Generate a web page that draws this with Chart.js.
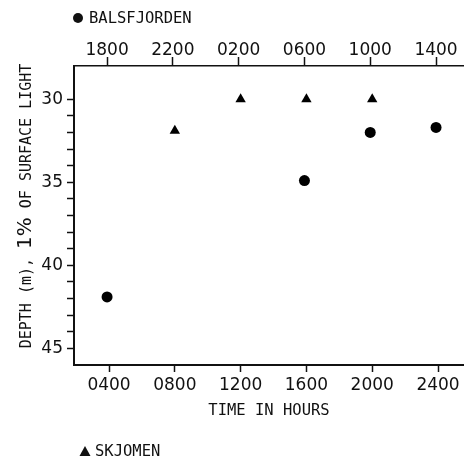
<!DOCTYPE html>
<html><head><meta charset="utf-8">
<script src="https://cdn.jsdelivr.net/npm/chart.js@4/dist/chart.umd.min.js"></script>
<style>html,body{margin:0;padding:0;background:#fff}#wrap{width:464px;height:461px;position:relative}</style>
</head><body><div id="wrap"><canvas id="c" width="464" height="461"></canvas></div>
<script>
// ---- data ----
const seriesNames = ['BALSFJORDEN', 'SKJOMEN'];
// Balsfjorden: times read on the top axis (hours, continuing past midnight)
const balsfjordenHours = [18, 30, 34, 38];
const balsfjordenDepth = [41.9, 34.9, 32.0, 31.7];
// Skjomen: times read on the bottom axis
const skjomenHours = [8, 12, 16, 20];
const skjomenDepth = [31.9, 30.0, 30.0, 30.0];
// axis ticks
const bottomTickHours = [4, 8, 12, 16, 20, 24];
const bottomTickLabels = ['0400', '0800', '1200', '1600', '2000', '2400'];
const topTickHours = [18, 22, 26, 30, 34, 38];
const topTickLabels = ['1800', '2200', '0200', '0600', '1000', '1400'];
const depthTicks = [30, 31, 32, 33, 34, 35, 36, 37, 38, 39, 40, 41, 42, 43, 44, 45];
const depthLabelValues = [30, 35, 40, 45];
const xTitle = 'TIME IN HOURS';
const yTitleParts = ['DEPTH (m), ', '1%', ' OF SURFACE LIGHT'];

const INK = '#111';
const MONO = '"DejaVu Sans Mono", monospace';
const SANS = '"DejaVu Sans", sans-serif';

const annot = {
  id: 'annot',
  afterDraw(chart) {
    const ctx = chart.ctx;
    ctx.save();
    ctx.fillStyle = INK;
    // legend: circle (top)
    ctx.beginPath(); ctx.arc(78, 18, 5, 0, Math.PI * 2); ctx.fill();
    ctx.font = '15.5px ' + MONO;
    ctx.textBaseline = 'middle'; ctx.textAlign = 'left';
    ctx.fillText(seriesNames[0], 89, 19);
    // legend: triangle (bottom)
    ctx.beginPath();
    ctx.moveTo(85, 446); ctx.lineTo(90.5, 456); ctx.lineTo(79.5, 456); ctx.closePath(); ctx.fill();
    ctx.fillText(seriesNames[1], 95, 452);
    // y title, rotated, mixed sizes
    const fonts = ['15px ' + MONO, '20px ' + SANS, '15px ' + MONO];
    let widths = yTitleParts.map((t, i) => { ctx.font = fonts[i]; return ctx.measureText(t).width; });
    const total = widths.reduce((a, b) => a + b, 0);
    ctx.translate(25, 206);
    ctx.rotate(-Math.PI / 2);
    ctx.textBaseline = 'alphabetic';
    let x = -total / 2;
    yTitleParts.forEach((t, i) => { ctx.font = fonts[i]; ctx.fillText(t, x, 6); x += widths[i]; });
    ctx.restore();
  }
};

const noSidePad = s => { s.paddingLeft = 0; s.paddingRight = 0; };

new Chart(document.getElementById('c'), {
  type: 'scatter',
  data: {
    datasets: [
      {
        label: seriesNames[0],
        data: balsfjordenHours.map((h, i) => ({ x: h, y: balsfjordenDepth[i] })),
        xAxisID: 'xTop', yAxisID: 'y',
        pointStyle: 'circle', pointRadius: 5.5, pointHoverRadius: 5.5,
        backgroundColor: '#000', borderColor: '#000', borderWidth: 0
      },
      {
        label: seriesNames[1],
        data: skjomenHours.map((h, i) => ({ x: h, y: skjomenDepth[i] })),
        xAxisID: 'x', yAxisID: 'y',
        pointStyle: 'triangle', pointRadius: 6, pointHoverRadius: 6,
        backgroundColor: '#000', borderColor: '#000', borderWidth: 0
      }
    ]
  },
  options: {
    responsive: false, animation: false,
    layout: { padding: 0, autoPadding: false },
    plugins: { legend: { display: false }, tooltip: { enabled: false } },
    scales: {
      x: {
        type: 'linear', position: 'bottom', min: 1.87, max: 25.58,
        afterBuildTicks: s => { s.ticks = bottomTickHours.map(v => ({ value: v })); },
        afterFit: s => { s.height = 461 - 365; noSidePad(s); },
        ticks: { callback: (v, i) => bottomTickLabels[i], font: { family: SANS, size: 17 }, color: INK, padding: 3, maxRotation: 0, autoSkip: false },
        grid: { display: true, drawOnChartArea: false, drawTicks: true, tickLength: 7, tickColor: INK, tickWidth: 1.5 },
        border: { display: true, color: INK, width: 2 },
        title: { display: true, text: xTitle, font: { family: MONO, size: 15.5 }, color: INK, padding: { top: 0, bottom: 41 } }
      },
      xTop: {
        type: 'linear', position: 'top', min: 15.99, max: 39.70,
        afterBuildTicks: s => { s.ticks = topTickHours.map(v => ({ value: v })); },
        afterFit: s => { s.height = 66; noSidePad(s); },
        ticks: { callback: (v, i) => topTickLabels[i], font: { family: SANS, size: 17 }, color: INK, padding: -4, maxRotation: 0, autoSkip: false },
        grid: { display: true, drawOnChartArea: false, drawTicks: true, tickLength: 9, tickColor: INK, tickWidth: 1.5 },
        border: { display: true, color: INK, width: 1.5 }
      },
      y: {
        type: 'linear', position: 'left', reverse: true, min: 28, max: 46,
        afterBuildTicks: s => { s.ticks = depthTicks.map(v => ({ value: v })); },
        afterFit: s => { s.width = 74; s.paddingTop = 0; s.paddingBottom = 0; },
        ticks: { callback: v => depthLabelValues.includes(v) ? String(v) : '', font: { family: SANS, size: 17 }, color: INK, padding: 4, autoSkip: false },
        grid: { display: true, drawOnChartArea: false, drawTicks: true, tickLength: 7, tickColor: INK, tickWidth: 1.5 },
        border: { display: true, color: INK, width: 2 }
      }
    }
  },
  plugins: [annot]
});
</script>
</body></html>
